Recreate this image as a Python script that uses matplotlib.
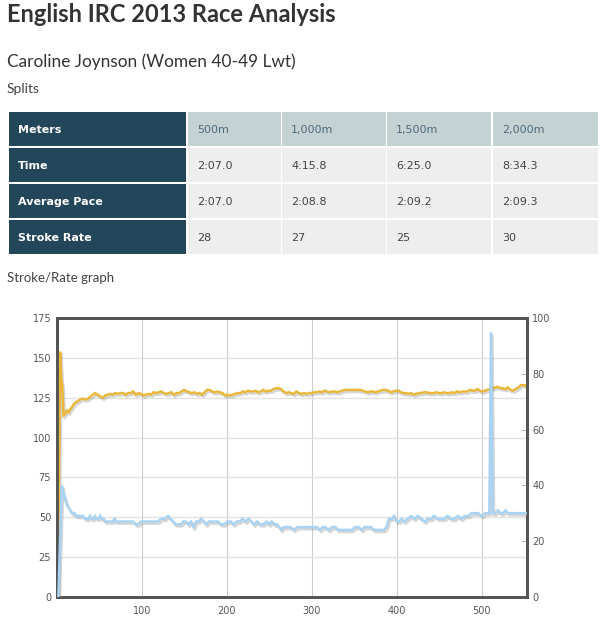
import matplotlib
matplotlib.use("Agg")
import matplotlib.pyplot as plt
from matplotlib.patches import Rectangle
import matplotlib.patheffects as pe

# ---------------- data ----------------
title = "English IRC 2013 Race Analysis"
athlete = "Caroline Joynson (Women 40-49 Lwt)"
splits_label = "Splits"
graph_label = "Stroke/Rate graph"

row_labels = ["Meters", "Time", "Average Pace", "Stroke Rate"]
split_meters = ["500m", "1,000m", "1,500m", "2,000m"]
split_time = ["2:07.0", "4:15.8", "6:25.0", "8:34.3"]
split_pace = ["2:07.0", "2:08.8", "2:09.2", "2:09.3"]
split_rate = ["28", "27", "25", "30"]

# pace (seconds / 500m) on left axis
pace_x = [1.5, 4, 5.5, 6.5, 8, 10, 12, 14, 16, 18, 20, 22, 25, 28, 31, 34, 37, 40, 43, 45,
          48, 51, 54, 57, 60, 63, 66, 69, 72, 75, 78, 81, 84, 87, 90, 93, 96, 99, 102, 105,
          108, 111, 114, 117, 120, 123, 126, 129, 132, 135, 138, 141, 144, 147, 150, 153, 156, 159, 162, 165,
          168, 171, 174, 177, 180, 183, 186, 189, 192, 195, 198, 201, 204, 207, 210, 213, 216, 219, 222, 225,
          228, 231, 234, 237, 240, 243, 246, 249, 252, 255, 258, 261, 264, 267, 270, 273, 276, 279, 282, 285,
          288, 291, 294, 297, 300, 303, 306, 309, 312, 315, 318, 321, 324, 327, 330, 333, 336, 339, 342, 345,
          348, 351, 354, 357, 360, 363, 366, 369, 372, 375, 378, 381, 384, 387, 390, 393, 396, 399, 402, 405,
          408, 411, 414, 417, 420, 423, 426, 429, 432, 435, 438, 441, 444, 447, 450, 453, 456, 459, 462, 465,
          468, 471, 474, 477, 480, 483, 486, 489, 492, 495, 498, 501, 504, 507, 510, 513, 516, 519, 522, 525,
          528, 531, 534, 537, 540, 543, 546, 549, 552, 553]
pace_sec = [0, 154, 136, 133, 114, 115, 117, 116, 118, 119, 121, 122, 123, 124, 124.5, 124, 124.5, 126, 127, 128,
            127, 126, 125, 126.5, 127, 127.5, 127, 128, 127.5, 128, 128, 127, 128, 128, 129, 127, 128, 127.5, 126.5, 127,
            127.5, 127, 128.5, 128, 128.5, 129, 128, 127.5, 128, 128.5, 127, 128, 128, 129, 130, 129, 128.5, 128, 128.5, 127.5,
            128, 127, 128.5, 130, 130, 129, 128.5, 129, 128.5, 128, 126.5, 127, 126.5, 127, 127.5, 128, 128, 129, 128.5, 129.5,
            129, 129, 129.5, 128.5, 129, 130, 129, 129.5, 129.5, 130.5, 131, 131, 130.5, 129, 128, 128.5, 128, 127.5, 129, 128,
            127.5, 128, 127.5, 128, 128, 128.5, 128.5, 129, 128.5, 129.5, 129, 128.5, 129, 129, 128.5, 129, 129.5, 130, 130, 130,
            130, 130, 130, 130, 129.5, 129, 128.5, 129, 129, 128.5, 129, 129.5, 130, 130, 129.5, 128.5, 129, 129.5, 129.5, 128.5,
            128, 128, 127.5, 128, 127, 127.5, 128, 128, 128.5, 128.5, 128, 128, 128, 128.5, 128, 128, 128.5, 128, 128, 128.5,
            128, 129, 128.5, 129, 129, 129, 130, 129.5, 129.5, 130.5, 129.5, 129, 129.5, 130, 130.5, 131, 131.5, 132, 131, 131,
            130.5, 131.5, 130, 129.5, 130.5, 131.5, 133, 133, 132.5, 133]

# stroke rate (spm) on right axis
rate_x = [2, 6, 8, 10, 12, 14, 16, 18, 21, 23,
          27, 31, 33, 35, 37, 39, 41, 43, 45, 47,
          49, 51, 53, 55, 57, 60, 63, 66, 68, 70,
          74, 78, 82, 86, 90, 93, 96, 99, 103, 107,
          111, 115, 119, 123, 127, 131, 134, 137, 140, 143,
          146, 149, 152, 155, 158, 161, 164, 167, 170, 173,
          176, 179, 182, 186, 190, 193, 197, 201, 205, 208,
          212, 215, 219, 222, 226, 229, 232, 236, 239, 243,
          247, 250, 253, 256, 259, 262, 264, 267, 271, 275,
          279, 283, 287, 291, 295, 299, 303, 306, 310, 313,
          316, 320, 324, 328, 331, 335, 339, 343, 347, 351,
          355, 359, 362, 366, 370, 373, 377, 381, 385, 388,
          391, 394, 397, 400, 403, 406, 409, 413, 417, 421,
          425, 429, 433, 437, 441, 444, 448, 452, 456, 460,
          464, 468, 472, 476, 480, 484, 488, 492, 496, 500,
          504, 507, 509, 511, 513, 516, 519, 522, 525, 528,
          531, 535, 540, 545, 553]
rate_spm = [0, 40, 37, 35, 33, 32, 31, 30, 30, 29,
            29, 29, 28, 28, 28, 29, 28, 28, 29, 28,
            28, 29, 28, 28, 27, 27, 27, 27, 28, 27,
            27, 27, 27, 27, 27, 26, 26, 27, 27, 27,
            27, 27, 27, 28, 28, 29, 28, 27, 26, 26,
            26, 27, 27, 26, 27, 25, 27, 27, 28, 27,
            26, 27, 27, 27, 27, 26, 26, 27, 27, 26,
            27, 27, 28, 27, 28, 27, 26, 27, 26, 26,
            27, 26, 27, 26, 26, 25, 24, 25, 25, 25,
            24, 25, 25, 25, 25, 25, 25, 25, 24, 25,
            25, 24, 25, 25, 24, 24, 24, 24, 24, 25,
            25, 24, 25, 25, 25, 24, 24, 24, 24, 25,
            28, 28, 29, 27, 27, 28, 27, 28, 29, 28,
            29, 28, 27, 28, 28, 29, 28, 28, 28, 29,
            28, 28, 29, 28, 29, 29, 30, 30, 30, 29,
            30, 30, 30, 95, 30, 30, 31, 30, 30, 31,
            30, 30, 30, 30, 30]

left_ticks = [0, 25, 50, 75, 100, 125, 150, 175]
right_ticks = [0, 20, 40, 60, 80, 100]
x_ticks = [100, 200, 300, 400, 500]

# ---------------- figure ----------------
W, H = 613, 640
fig = plt.figure(figsize=(W / 100, H / 100), dpi=100)
fig.patch.set_facecolor("white")

# overlay in pixel coordinates for page texts and the splits table
pg = fig.add_axes([0, 0, 1, 1])
pg.set_xlim(0, W)
pg.set_ylim(H, 0)
pg.axis("off")

head_font = ["Lato", "DejaVu Sans"]
pg.text(7, 21.7, title, fontsize=17, fontweight="bold", family=head_font, color="#333333", va="baseline")
pg.text(7, 66.7, athlete, fontsize=12.4, family=head_font, color="#333333", va="baseline")
pg.text(7, 93, splits_label, fontsize=10, family=head_font, color="#444444", va="baseline")
pg.text(7, 281.7, graph_label, fontsize=9.5, family=head_font, color="#444444", va="baseline")

col_edges = [(8.6, 186.0), (187.7, 280.7), (282.3, 385.5), (387.0, 491.4), (493.0, 597.7)]
row_edges = [(112.3, 146.3), (148.0, 182.3), (184.0, 218.3), (220.0, 254.3)]
table_rows = [split_meters, split_time, split_pace, split_rate]
for r, (y0, y1) in enumerate(row_edges):
    yc = (y0 + y1) / 2
    for c, (x0, x1) in enumerate(col_edges):
        if c == 0:
            fc = "#23465A"
        elif r == 0:
            fc = "#C5D2D4"
        else:
            fc = "#EEEEEE"
        pg.add_patch(Rectangle((x0, y0), x1 - x0, y1 - y0, facecolor=fc, edgecolor="none"))
        if c == 0:
            pg.text(x0 + 9.5, yc + 0.5, row_labels[r], fontsize=8, fontweight="bold",
                    color="white", va="center", ha="left", family="DejaVu Sans")
        else:
            pg.text(x0 + 9.0, yc + 1, table_rows[r][c - 1], fontsize=8,
                    color="#4F6A78" if r == 0 else "#444444", va="center", ha="left",
                    family="DejaVu Sans")

# ---------------- chart ----------------
L, R, T, B = 56.7, 526.7, 318.3, 596.7
ax = fig.add_axes([L / W, (H - B) / H, (R - L) / W, (B - T) / H])
ax.set_facecolor("white")
ax.set_xlim(0, 553)
ax.set_ylim(0, 175)
ax.set_yticks(left_ticks)
ax.set_xticks(x_ticks)
ax.grid(axis="y", color="#E2E2E2", linewidth=1.0)
ax.grid(axis="x", color="#CCCCCC", linewidth=0.8)
ax.set_axisbelow(True)
ax.tick_params(axis="y", length=0, pad=4, labelsize=7, labelcolor="#555555")
ax.tick_params(axis="x", length=0, pad=7, labelsize=7, labelcolor="#555555")
for s in ax.spines.values():
    s.set_color("#555555")
    s.set_linewidth(2)

shadow = [pe.SimpleLineShadow(offset=(1, -1.5), shadow_color="#888888", alpha=0.35), pe.Normal()]
ax.plot(pace_x, pace_sec, color="#E9B83A", linewidth=1.8, solid_joinstyle="miter",
        path_effects=shadow, zorder=3)

ax2 = ax.twinx()
ax2.set_ylim(0, 100)
ax2.set_yticks(right_ticks)
ax2.tick_params(axis="y", direction="in", length=4, width=0.8, color="#BBBBBB",
                pad=4, labelsize=7, labelcolor="#555555")
for s in ax2.spines.values():
    s.set_color("#555555")
    s.set_linewidth(2)
ax2.plot(rate_x, rate_spm, color="#A9D3F2", linewidth=1.8, solid_joinstyle="miter",
         path_effects=shadow, zorder=3)

fig.savefig("out.png", dpi=100, facecolor="white")
